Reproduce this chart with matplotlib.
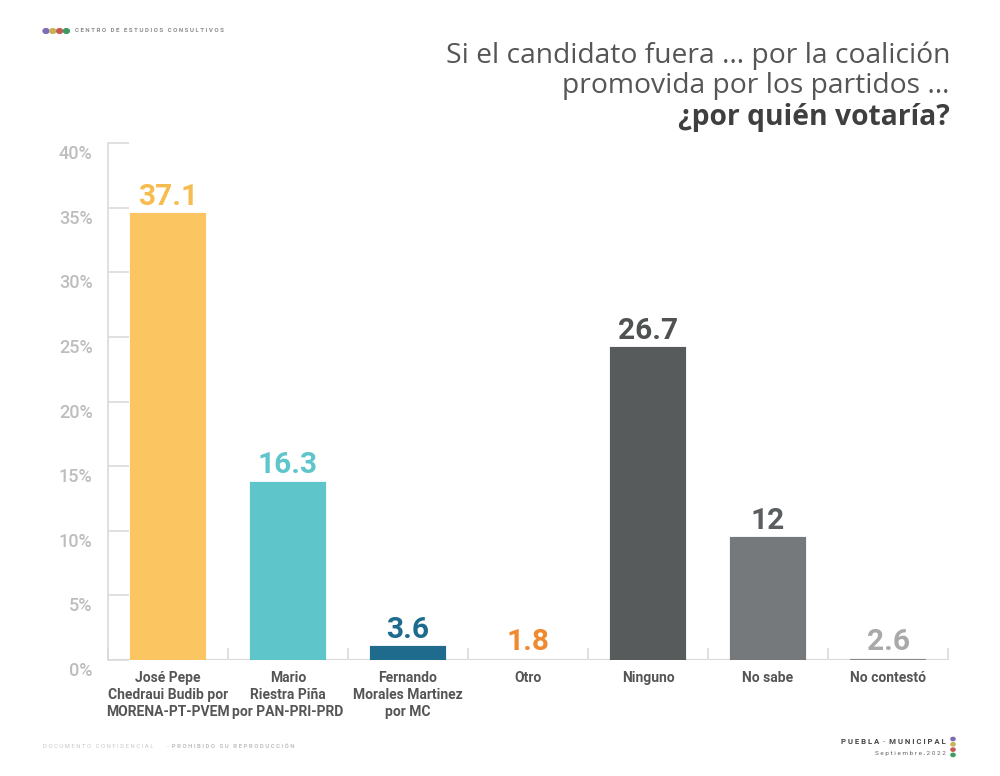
import numpy as np
import matplotlib
matplotlib.use('Agg')
from matplotlib import pyplot as plt
import matplotlib.transforms as mtransforms
from matplotlib.ticker import FuncFormatter, FixedLocator

# Data
categories = ['José Pepe\nChedraui Budib por\nMORENA-PT-PVEM',
              'Mario\nRiestra Piña\npor PAN-PRI-PRD',
              'Fernando\nMorales Martinez\npor MC',
              'Otro', 'Ninguno', 'No sabe', 'No contestó']
values = [37.1, 16.3, 3.6, 1.8, 26.7, 12, 2.6]
value_labels = ['37.1', '16.3', '3.6', '1.8', '26.7', '12', '2.6']
bar_colors = ['#FBC562', '#5EC6CA', '#1E6B8E', '#F08A30', '#585B5C', '#76797B', '#8A8A8A']
label_colors = ['#F7BC50', '#5EC6CA', '#1E6B8E', '#F08A30', '#4F5253', '#5B5E60', '#A9A9A9']

# the original chart draws its bars on a shifted baseline; the axis starts at this value
base = 2.65

plt.rcParams['font.family'] = ['Roboto', 'DejaVu Sans']

fig = plt.figure(figsize=(10, 7.76), dpi=100)
fig.patch.set_facecolor('white')
ax = fig.add_axes([0.108, 0.1495, 0.840, 0.6662])

x = np.arange(len(values))
ax.bar(x, values, width=0.6, color=bar_colors, edgecolor=bar_colors, linewidth=3, zorder=2)

ax.set_xlim(-0.5, len(values) - 0.5)
ax.set_ylim(base, base + 40)

# value labels
for i, v in enumerate(values):
    ax.annotate(value_labels[i], xy=(i, max(v, base)), xytext=(0, 3), textcoords='offset points',
                ha='center', va='bottom', fontsize=21.5, fontweight='bold', color=label_colors[i])

# axes styling
for s in ['top', 'right', 'bottom']:
    ax.spines[s].set_visible(False)
ax.spines['left'].set_color('#DADADA')
ax.spines['left'].set_linewidth(1.2)
ax.axhline(base, color='#DADADA', linewidth=1.5, zorder=1)

ax.yaxis.set_major_locator(FixedLocator(np.arange(0, 45, 5) + base))
ax.yaxis.set_major_formatter(FuncFormatter(lambda y, p: '{0:.0f}%'.format(y - base)))
ax.tick_params(axis='y', direction='in', length=15, width=1.2, color='#DADADA',
               labelsize=13, labelcolor='#BDBDBD', pad=11)
offset = mtransforms.ScaledTranslation(0, -9 / 100, fig.dpi_scale_trans)
for lab in ax.get_yticklabels():
    lab.set_transform(lab.get_transform() + offset)
    lab.set_fontweight('medium')

# category separators
ax.set_xticks(np.arange(len(values) + 1) - 0.5, minor=True)
ax.tick_params(axis='x', which='minor', direction='in', length=9, width=1.2, color='#DADADA')
ax.set_xticks(x)
ax.set_xticklabels(categories, fontsize=10, fontweight='bold', color='#555555', linespacing=1.25)
ax.tick_params(axis='x', which='major', length=0, pad=8)

# title
title_font = ['Open Sans', 'DejaVu Sans']
fig.text(0.950, 1 - 56 / 776, 'Si el candidato fuera … por la coalición', ha='right', va='center',
         fontsize=20.3, color='#555555', family=title_font)
fig.text(0.950, 1 - 86 / 776, 'promovida por los partidos …', ha='right', va='center',
         fontsize=20.3, color='#555555', family=title_font)
fig.text(0.950, 1 - 117 / 776, '¿por quién votaría?', ha='right', va='center',
         fontsize=20.3, fontweight='bold', color='#3F3F3F', family=title_font)

# header logo
dot_colors = ['#7E6BB5', '#C9B354', '#C55A55', '#3E9A5E']
for k, c in enumerate(dot_colors):
    fig.patches.append(matplotlib.patches.Circle((0.046 + k * 0.0068, 1 - 31 / 776), 0.0030,
                                                 transform=fig.transFigure, color=c))
fig.text(0.075, 1 - 31 / 776, 'C E N T R O   D E   E S T U D I O S   C O N S U L T I V O S',
         fontsize=4.4, fontweight='bold', color='#8C8C8C', va='center')

# footer
fig.text(0.043, 1 - 747 / 776, 'D O C U M E N T O   C O N F I D E N C I A L', fontsize=4.3,
         color='#C8C8C8', va='center')
fig.text(0.167, 1 - 747 / 776, '·  P R O H I B I D O   S U   R E P R O D U C C I Ó N', fontsize=4.3,
         fontweight='bold', color='#C0C0C0', va='center')
fig.text(0.946, 1 - 742 / 776, 'P U E B L A  ·  M U N I C I P A L', fontsize=5.6, fontweight='bold',
         color='#444444', ha='right', va='center')
fig.text(0.946, 1 - 753 / 776, 'S e p t i e m b r e , 2 0 2 2', fontsize=4.6,
         color='#666666', ha='right', va='center')
for k, c in enumerate(dot_colors):
    fig.patches.append(matplotlib.patches.Circle((0.953, 1 - (739 + k * 5.3) / 776), 0.0021,
                                                 transform=fig.transFigure, color=c))

plt.savefig('out.png', dpi=100, facecolor='white')
